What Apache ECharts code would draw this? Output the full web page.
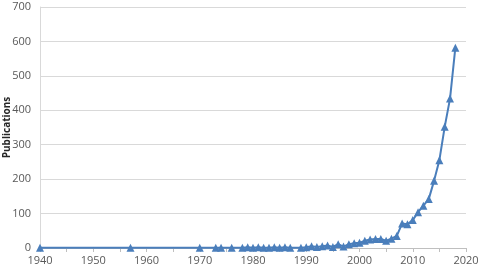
<!DOCTYPE html>
<html><head><meta charset="utf-8">
<script src="https://cdn.jsdelivr.net/npm/echarts@6/dist/echarts.min.js"></script>
<style>html,body{margin:0;padding:0;background:#fff}#c{width:481px;height:275px}</style>
</head><body><div id="c"></div>
<script>
var years = [1940,1957,1970,1973,1974,1976,1978,1979,1980,1981,1982,1983,1984,1985,1986,1987,1989,1990,1991,1992,1993,1994,1995,1996,1997,1998,1999,2000,2001,2002,2003,2004,2005,2006,2007,2008,2009,2010,2011,2012,2013,2014,2015,2016,2017,2018];
var publications = [1,1,1,1,1,1,1,2,1,2,1,1,2,1,2,1,1,2,5,3,5,7,3,11,4,11,14,15,21,25,26,26,21,27,35,71,69,81,104,123,142,195,255,352,434,582];
var yTicks = {min:0, max:700, interval:100};
var xTicks = {min:1940, max:2020, interval:10};
var yName = 'Publications';

var chart = echarts.init(document.getElementById('c'));
var font = 'Open Sans';
chart.setOption({
  animation:false,
  grid:{left:40,right:15,top:7,bottom:27,containLabel:false,outerBoundsMode:'none'},
  xAxis:{type:'value',min:xTicks.min,max:xTicks.max,interval:xTicks.interval,
    axisLine:{show:true,lineStyle:{color:'#bfbfbf',width:1}},
    axisTick:{show:true,length:4,inside:false,lineStyle:{color:'#bfbfbf'}},
    minorTick:{show:true,splitNumber:2,length:4,lineStyle:{color:'#bfbfbf'}},
    splitLine:{show:false},
    axisLabel:{color:'#595959',fontFamily:font,fontSize:11,margin:7,formatter:function(v){return String(v);}}},
  yAxis:{type:'value',min:yTicks.min,max:yTicks.max,interval:yTicks.interval,
    name:yName,nameLocation:'middle',nameGap:28,nameMoveOverlap:false,
    nameTextStyle:{fontFamily:font,fontSize:10,fontWeight:'bold',color:'#262626'},
    axisLine:{show:true,lineStyle:{color:'#d9d9d9'}},
    axisTick:{show:false},
    splitLine:{lineStyle:{color:'#d9d9d9',width:1}},
    axisLabel:{color:'#595959',fontFamily:font,fontSize:11,margin:9}},
  series:[{type:'line',data:years.map(function(y,i){return [y,publications[i]];}),
    symbol:'triangle',symbolSize:8,
    lineStyle:{color:'#4a7ebb',width:2},
    itemStyle:{color:'#4a7ebb'}}]
});
</script></body></html>
